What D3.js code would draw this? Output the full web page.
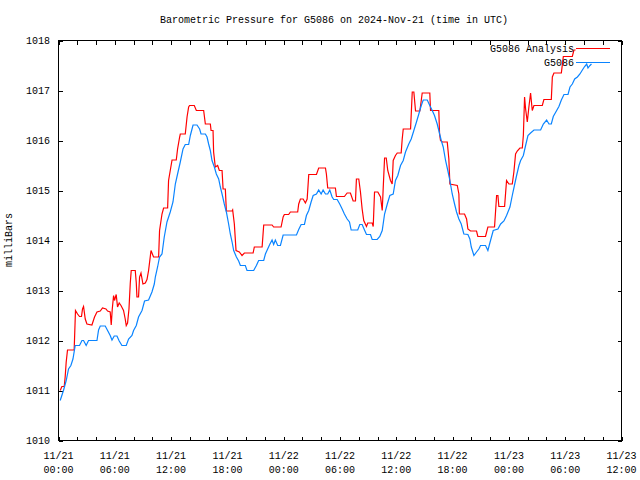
<!DOCTYPE html>
<html>
<head>
<meta charset="utf-8">
<script src="https://cdn.jsdelivr.net/npm/d3@7"></script>
<style>
  html, body { margin: 0; padding: 0; background: #fff; }
  svg { display: block; }
  text { font-family: "Liberation Mono", "DejaVu Sans Mono", monospace; font-size: 10px; fill: #000; }
</style>
</head>
<body>
<svg id="chart" width="640" height="480"></svg>
<script>
// ---- data (hours after 2024-11-21 00:00 UTC, pressure in mb) ----
const titleText = "Barometric Pressure for G5086 on 2024-Nov-21 (time in UTC)";
const yLabel = "milliBars";
const seriesNames = ["G5086 Analysis", "G5086"];
const yTicks = [1010, 1011, 1012, 1013, 1014, 1015, 1016, 1017, 1018];

const analysisHours = [0.18,0.36,0.61,0.71,0.82,0.96,1.67,1.81,2.03,2.24,2.45,2.56,2.67,2.85,3.03,3.56,3.84,4.10,4.45,4.69,5.06,5.23,5.51,5.62,5.73,5.87,5.97,6.15,6.29,6.47,6.66,6.93,7.11,7.22,7.36,7.51,7.65,7.75,8.18,8.29,8.36,8.53,8.64,8.79,9.00,9.25,9.43,9.60,9.86,10.13,10.67,10.77,11.03,11.20,11.63,11.73,11.91,12.10,12.55,12.69,12.91,12.98,13.51,13.70,13.87,13.97,14.47,14.69,15.47,15.65,16.18,16.26,16.47,16.53,16.71,16.96,17.14,17.43,17.54,17.78,17.89,18.50,18.56,18.74,18.92,19.27,19.56,19.81,20.74,20.87,21.70,21.87,22.76,22.93,23.72,23.94,24.07,24.53,24.71,25.49,25.60,25.78,26.07,26.31,26.50,26.67,27.49,27.73,28.45,28.55,28.69,29.51,29.62,30.47,30.76,31.11,31.40,31.65,31.75,32.00,32.18,32.36,32.53,32.82,32.96,33.43,33.54,33.68,34.03,34.32,34.50,34.61,34.75,34.93,35.09,35.38,35.56,35.67,35.91,36.10,36.52,36.63,36.74,37.52,37.70,37.87,38.05,38.51,38.66,38.76,39.57,39.65,40.53,40.61,40.71,40.90,41.43,41.60,41.71,42.50,42.67,42.72,43.27,43.49,43.63,43.91,44.55,44.69,45.51,45.76,46.47,46.69,46.83,46.93,47.54,47.75,48.00,48.36,48.53,48.71,48.89,49.17,49.43,49.54,49.67,49.78,49.96,50.13,50.31,50.49,50.67,51.56,51.73,52.52,52.63,52.80,53.59,53.80,54.76,54.93,55.11];
const analysisValues = [1011.0,1011.08,1011.08,1011.27,1011.57,1011.81,1011.81,1012.6,1012.53,1012.48,1012.48,1012.63,1012.68,1012.43,1012.33,1012.31,1012.47,1012.57,1012.59,1012.65,1012.63,1012.59,1012.57,1012.31,1012.63,1012.9,1012.8,1012.92,1012.67,1012.75,1012.7,1012.6,1012.43,1012.3,1012.35,1012.63,1013.15,1013.4,1013.4,1013.15,1012.87,1012.87,1013.27,1013.35,1013.13,1013.15,1013.22,1013.4,1013.8,1013.67,1013.67,1014.2,1014.53,1014.65,1014.65,1015.2,1015.4,1015.61,1015.61,1015.83,1016.07,1016.13,1016.13,1016.47,1016.67,1016.7,1016.7,1016.6,1016.6,1016.33,1016.33,1016.2,1016.2,1015.77,1015.47,1015.5,1015.4,1015.4,1015.03,1015.03,1014.59,1014.59,1014.61,1014.33,1013.8,1013.77,1013.7,1013.75,1013.75,1013.87,1013.87,1014.31,1014.31,1014.27,1014.27,1014.47,1014.52,1014.52,1014.57,1014.57,1014.73,1014.83,1014.83,1014.75,1014.83,1015.32,1015.32,1015.45,1015.45,1015.33,1015.05,1015.05,1014.88,1014.88,1014.95,1014.95,1014.79,1014.79,1015.23,1015.23,1014.97,1014.63,1014.4,1014.28,1014.35,1014.35,1014.28,1014.97,1014.97,1014.87,1014.6,1015.07,1015.65,1015.65,1015.4,1015.2,1015.13,1015.6,1015.7,1015.75,1015.75,1016.03,1016.23,1016.23,1016.97,1016.97,1016.59,1016.59,1016.8,1016.95,1016.95,1016.6,1016.6,1016.13,1016.0,1015.97,1015.97,1015.63,1015.13,1015.1,1014.93,1014.53,1014.53,1014.43,1014.23,1014.19,1014.19,1014.08,1014.08,1014.27,1014.27,1014.9,1014.9,1014.68,1014.68,1015.2,1015.13,1015.13,1015.37,1015.73,1015.79,1015.85,1015.85,1016.1,1016.87,1016.63,1016.37,1016.67,1016.95,1016.6,1016.7,1016.7,1016.82,1016.82,1017.27,1017.35,1017.35,1017.68,1017.68,1017.81,1017.81];

const stationHours = [0.18,0.53,0.82,1.07,1.32,1.54,1.78,2.24,2.50,2.67,2.95,3.20,4.10,4.27,4.45,4.98,5.23,5.51,5.70,5.94,6.23,6.47,6.76,7.22,7.47,7.83,8.00,8.29,8.53,8.90,9.17,9.60,9.96,10.21,10.32,10.56,10.77,11.03,11.27,11.56,11.91,12.20,12.45,12.69,12.98,13.27,13.51,13.87,14.05,14.23,14.34,14.76,15.04,15.19,15.65,15.83,16.00,16.18,16.36,16.61,16.82,17.07,17.25,17.43,17.67,17.89,18.13,18.31,18.50,18.67,18.96,19.20,19.38,19.91,20.09,20.80,21.09,21.33,21.87,22.05,22.29,22.51,22.76,22.93,23.11,23.36,23.65,23.94,25.36,25.60,25.86,26.21,26.42,26.67,26.92,27.14,27.49,27.73,27.99,28.20,28.45,28.69,28.91,29.16,29.33,29.70,29.97,30.23,30.47,30.76,31.01,31.19,31.89,32.11,32.36,32.61,32.82,33.25,33.43,33.96,34.24,34.50,34.75,35.04,35.31,35.67,35.91,36.16,36.45,36.74,36.98,37.33,37.59,37.87,38.15,38.40,38.66,38.87,39.30,39.57,39.83,40.07,40.36,40.53,40.79,41.00,41.25,41.49,41.71,41.96,42.21,42.42,42.67,42.92,43.20,43.63,43.84,43.99,44.27,44.55,44.80,44.98,45.51,45.76,45.97,46.33,46.83,47.12,47.47,47.75,48.11,48.36,48.61,48.82,49.07,49.25,49.54,49.78,50.03,50.31,50.67,51.38,51.67,52.02,52.27,52.52,52.73,53.09,53.33,53.59,53.87,54.30,54.51,54.76,55.01,55.30,55.57,55.83,56.07,56.29,56.43,56.64,56.80];
const stationValues = [1010.8,1011.0,1011.2,1011.43,1011.5,1011.63,1011.9,1011.9,1012.0,1012.0,1011.9,1012.0,1012.0,1012.21,1012.29,1012.29,1012.2,1012.1,1012.01,1012.09,1012.09,1011.99,1011.9,1011.9,1012.03,1012.1,1012.2,1012.3,1012.47,1012.6,1012.79,1012.81,1012.97,1013.13,1013.27,1013.47,1013.67,1013.73,1014.07,1014.37,1014.57,1014.77,1015.13,1015.33,1015.57,1015.83,1015.92,1015.92,1016.1,1016.23,1016.31,1016.31,1016.23,1016.13,1016.13,1016.07,1015.93,1015.8,1015.6,1015.47,1015.33,1015.23,1015.07,1014.93,1014.73,1014.57,1014.33,1014.13,1013.97,1013.8,1013.67,1013.59,1013.5,1013.5,1013.4,1013.4,1013.5,1013.6,1013.6,1013.73,1013.83,1013.92,1014.01,1013.92,1014.01,1013.9,1013.9,1014.11,1014.11,1014.22,1014.32,1014.32,1014.5,1014.6,1014.77,1014.9,1014.93,1015.01,1014.93,1015.01,1014.93,1014.93,1015.01,1014.87,1014.82,1014.82,1014.73,1014.63,1014.53,1014.43,1014.37,1014.21,1014.21,1014.32,1014.32,1014.21,1014.12,1014.12,1014.02,1014.02,1014.08,1014.2,1014.53,1014.73,1014.9,1014.93,1015.2,1015.3,1015.5,1015.6,1015.77,1015.93,1016.03,1016.2,1016.37,1016.53,1016.7,1016.81,1016.81,1016.7,1016.6,1016.5,1016.33,1016.2,1016.0,1015.87,1015.6,1015.4,1015.2,1014.93,1014.73,1014.57,1014.43,1014.33,1014.13,1014.12,1014.03,1013.87,1013.7,1013.77,1013.83,1013.9,1013.9,1013.8,1013.95,1014.2,1014.23,1014.33,1014.39,1014.5,1014.67,1014.9,1015.12,1015.3,1015.5,1015.6,1015.7,1015.9,1016.1,1016.15,1016.21,1016.21,1016.33,1016.41,1016.33,1016.33,1016.48,1016.6,1016.68,1016.81,1016.92,1016.92,1017.07,1017.13,1017.23,1017.27,1017.33,1017.41,1017.48,1017.53,1017.45,1017.5,1017.53];

const colors = ["#ff0000", "#0a84ff"];

// ---- layout ----
const svg = d3.select("#chart");
const plotL = 58.5, plotR = 621.5, plotT = 40.5, plotB = 440.5;
const t0 = Date.UTC(2024, 10, 21, 0, 0);
const hr = 3600 * 1000;
const x = d3.scaleUtc().domain([new Date(t0), new Date(t0 + 60 * hr)]).range([plotL, plotR]);
const y = d3.scaleLinear().domain([1010, 1018]).range([plotB, plotT]);

const g = svg.append("g").attr("shape-rendering", "crispEdges");

// ticks (2-hour on bottom/top, 1 mb on left/right), pointing inward
const minorTimes = d3.range(0, 61, 2).map(h => new Date(t0 + h * hr));
const axB = d3.axisBottom(x).tickValues(minorTimes).tickSize(-4).tickFormat("");
const axT = d3.axisTop(x).tickValues(minorTimes).tickSize(-4).tickFormat("");
const axL = d3.axisLeft(y).tickValues(yTicks).tickSize(-4).tickFormat("");
const axR = d3.axisRight(y).tickValues(yTicks).tickSize(-4).tickFormat("");
[[axB, `translate(0,${plotB})`], [axT, `translate(0,${plotT})`], [axL, `translate(${plotL},0)`], [axR, `translate(${plotR},0)`]]
  .forEach(([ax, tr]) => {
    const a = g.append("g").attr("transform", tr).call(ax);
    a.select(".domain").remove();
    a.selectAll("line").attr("stroke", "#000");
  });

// frame
g.append("rect").attr("x", plotL).attr("y", plotT).attr("width", plotR - plotL).attr("height", plotB - plotT)
  .attr("fill", "none").attr("stroke", "#000").attr("stroke-width", 1);

// y tick labels
svg.append("g").selectAll("text").data(yTicks).join("text")
  .attr("x", 50).attr("y", d => y(d) + 3.5).attr("text-anchor", "end").text(d => d);

// x tick labels
const majorTimes = d3.range(0, 61, 6).map(h => new Date(t0 + h * hr));
const fmtDate = d3.utcFormat("%m/%d"), fmtTime = d3.utcFormat("%H:%M");
const xl = svg.append("g").selectAll("text").data(majorTimes).join("text")
  .attr("text-anchor", "middle");
xl.append("tspan").attr("x", d => x(d)).attr("y", 459).text(d => fmtDate(d));
xl.append("tspan").attr("x", d => x(d)).attr("y", 473).text(d => fmtTime(d));

// title & axis label
svg.append("text").attr("x", 334).attr("y", 23).attr("text-anchor", "middle").text(titleText);
svg.append("text").attr("transform", "translate(12,240) rotate(-90)").attr("text-anchor", "middle").text(yLabel);

// series
const line = d3.line().x(d => x(new Date(t0 + d[0] * hr))).y(d => y(d[1]));
const series = [
  analysisHours.map((h, i) => [h, analysisValues[i]]),
  stationHours.map((h, i) => [h, stationValues[i]])
];
svg.append("g").selectAll("path").data(series).join("path")
  .attr("d", line).attr("fill", "none").attr("stroke", (d, i) => colors[i]).attr("stroke-width", 1.2);

// legend
const leg = svg.append("g").selectAll("g").data(seriesNames).join("g")
  .attr("transform", (d, i) => `translate(0,${48.5 + i * 13.5})`);
leg.append("text").attr("x", 574).attr("y", 3.5).attr("text-anchor", "end").text(d => d);
leg.append("line").attr("x1", 576).attr("x2", 610).attr("y1", 0).attr("y2", 0)
  .attr("stroke", (d, i) => colors[i]).attr("stroke-width", 1).attr("shape-rendering", "crispEdges");
</script>
</body>
</html>
